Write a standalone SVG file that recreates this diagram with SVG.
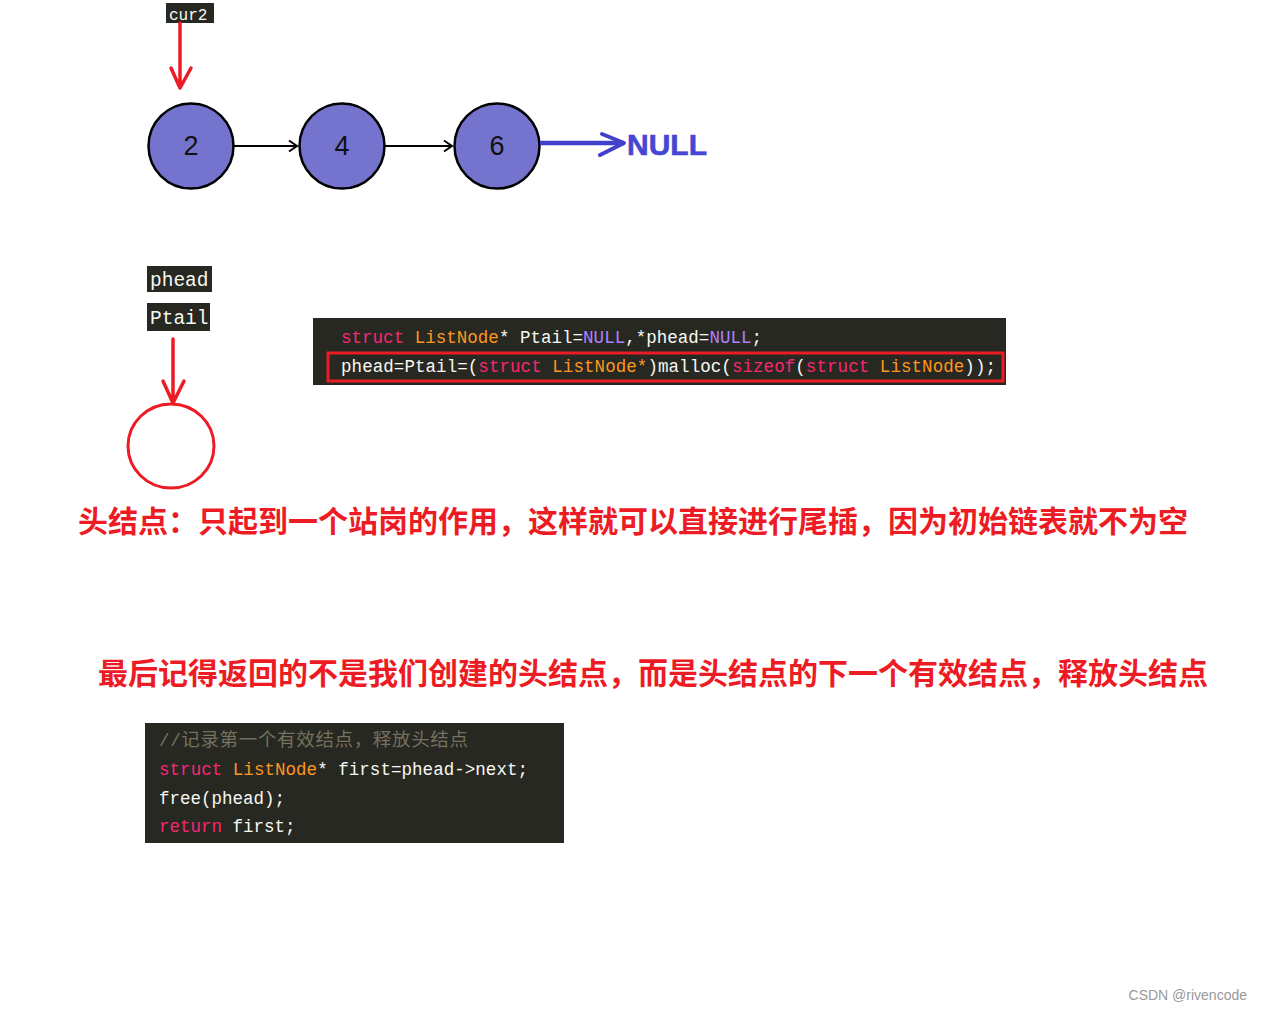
<svg xmlns="http://www.w3.org/2000/svg" width="1262" height="1010" viewBox="0 0 1262 1010">
<style>
.node{fill:#7474CE;stroke:#000;stroke-width:2.5}
.num{font-family:"Liberation Sans",Arial,sans-serif;font-size:27px;fill:#111;text-anchor:middle}
.lbl{fill:#272822}
.lt{font-family:"Liberation Mono","DejaVu Sans Mono",monospace;fill:#F8F8F2}
.code{font-family:"Liberation Mono","DejaVu Sans Mono",monospace;font-size:17.5px;fill:#F8F8F2}
.kw{fill:#F92672}
.ty{fill:#FD971F}
.cn{fill:#AE81FF}
.cm{fill:#75715E}
.cjs{font-family:"Liberation Serif","Noto Sans CJK SC",serif;font-size:18.5px}
.red{stroke:#ED1C24;fill:none;stroke-width:3.5;stroke-linecap:round;stroke-linejoin:round}
.cjk{font-family:"Noto Sans CJK SC","Liberation Sans",sans-serif;font-weight:bold;font-size:30px;fill:#ED1C24}
</style>
<defs>
<marker id="ah" markerWidth="14" markerHeight="14" refX="11" refY="7" orient="auto" markerUnits="userSpaceOnUse">
<path d="M3,1.5 L11,7 L3,12.5" fill="none" stroke="#000" stroke-width="2"/>
</marker>
</defs>
<g id="cur2">
<rect class="lbl" x="166" y="3" width="48" height="20"/>
<text class="lt" x="169" y="20" font-size="16">cur2</text>
</g>
<g id="n2"><circle class="node" cx="191" cy="146" r="42.5"/><text class="num" x="191" y="155">2</text></g>
<g id="n4"><circle class="node" cx="342" cy="146" r="42.5"/><text class="num" x="342" y="155">4</text></g>
<g id="n6"><circle class="node" cx="497" cy="146" r="42.5"/><text class="num" x="497" y="155">6</text></g>
<g id="null"><text x="627" y="155" font-family="'Liberation Sans',Arial,sans-serif" font-weight="bold" font-size="30" fill="#4646D2" stroke="#4646D2" stroke-width="0.6">NULL</text></g>
<g id="phead"><rect class="lbl" x="147" y="266" width="65" height="26"/><text class="lt" x="150" y="286" font-size="19.5">phead</text></g>
<g id="ptail"><rect class="lbl" x="147" y="303" width="63" height="28"/><text class="lt" x="150" y="324" font-size="19.5">Ptail</text></g>
<g id="newnode"><ellipse cx="171" cy="446" rx="43" ry="42" fill="none" stroke="#ED1C24" stroke-width="3"/></g>
<g id="connectors">
<line x1="234" y1="146" x2="297" y2="146" stroke="#000" stroke-width="2" marker-end="url(#ah)"/>
<line x1="385" y1="146" x2="452" y2="146" stroke="#000" stroke-width="2" marker-end="url(#ah)"/>
<path d="M540,143 L624,143" stroke="#4040CC" stroke-width="4.5" fill="none"/>
<path d="M602,134 L624,143 L600,155" stroke="#4040CC" stroke-width="4" fill="none" stroke-linecap="round" stroke-linejoin="round"/>
<path class="red" d="M180,23 L180,88 M171,68 L180,88 L191,68"/>
<path class="red" d="M173,339 L173,403 M163,381 L173,403 L184,381"/>
</g>
<g id="code1">
<rect x="313" y="318" width="693" height="67" fill="#272822"/>
<text class="code" x="341" y="343" textLength="421"><tspan class="kw">struct</tspan> <tspan class="ty">ListNode</tspan>* Ptail=<tspan class="cn">NULL</tspan>,*phead=<tspan class="cn">NULL</tspan>;</text>
<rect x="328" y="353" width="675" height="28" fill="none" stroke="#ED1C24" stroke-width="3"/>
<text class="code" x="341" y="372" textLength="655">phead=Ptail=(<tspan class="kw">struct</tspan> <tspan class="ty">ListNode*</tspan>)malloc(<tspan class="kw">sizeof</tspan>(<tspan class="kw">struct</tspan> <tspan class="ty">ListNode</tspan>));</text>
</g>
<g id="note1"><text class="cjk" x="78" y="532" textLength="1110">头结点：只起到一个站岗的作用，这样就可以直接进行尾插，因为初始链表就不为空</text></g>
<g id="note2"><text class="cjk" x="98" y="684" textLength="1110">最后记得返回的不是我们创建的头结点，而是头结点的下一个有效结点，释放头结点</text></g>
<g id="code2">
<rect x="145" y="723" width="419" height="120" fill="#272822"/>
<text class="code cm" x="159" y="746" textLength="309">//<tspan class="cjs">记录第一个有效结点，释放头结点</tspan></text>
<text class="code" x="159" y="775" textLength="369"><tspan class="kw">struct</tspan> <tspan class="ty">ListNode</tspan>* first=phead-&gt;next;</text>
<text class="code" x="159" y="804">free(phead);</text>
<text class="code" x="159" y="832"><tspan class="kw">return</tspan> first;</text>
</g>
<text x="1247" y="1000" text-anchor="end" font-family="'Liberation Sans',Arial,sans-serif" font-size="14" fill="#999">CSDN @rivencode</text>
</svg>
